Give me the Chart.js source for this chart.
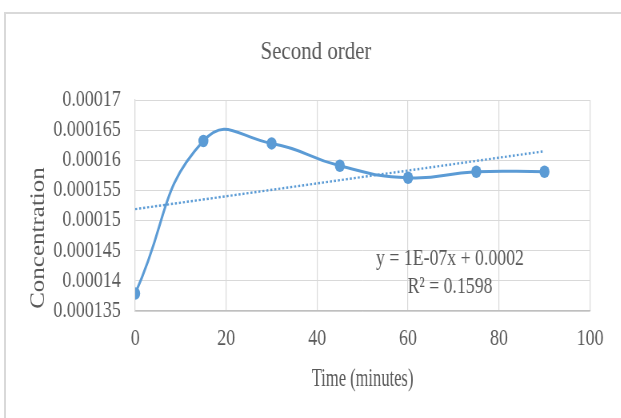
<!DOCTYPE html>
<html>
<head>
<meta charset="utf-8">
<script src="https://cdn.jsdelivr.net/npm/chart.js@4"></script>
<style>
  html, body { margin: 0; padding: 0; background: #ffffff; overflow: hidden; }
  #wrap { position: relative; width: 621px; height: 418px; overflow: hidden; }
  #frame { position: absolute; left: 4px; top: 12px; width: 700px; height: 500px;
           border: 2px solid #d9d9d9; box-sizing: border-box; pointer-events: none; }
  canvas { position: absolute; left: 0; top: 0; transform-origin: 0 0; transform: scaleX(0.8); }
</style>
</head>
<body>
<div id="wrap">
  <canvas id="c" width="776" height="418"></canvas>
  <div id="frame"></div>
</div>
<script>
// ---- data ----
const timeMinutes   = [0, 15, 30, 45, 60, 75, 90];
const concentration = [0.0001379, 0.0001632, 0.0001628, 0.0001591, 0.0001571, 0.0001581, 0.0001581];
const trendX        = [0, 90];
const trendY        = [0.0001519, 0.0001615];
const xTickValues   = [0, 20, 40, 60, 80, 100];
const yTickValues   = [0.000135, 0.00014, 0.000145, 0.00015, 0.000155, 0.00016, 0.000165, 0.00017];
const yTickLabels   = ["0.000135", "0.00014", "0.000145", "0.00015", "0.000155", "0.00016", "0.000165", "0.00017"];
const chartTitle    = "Second order";
const xAxisTitle    = "Time (minutes)";
const yAxisTitle    = "Concentration";
const equationLines = ["y = 1E-07x + 0.0002", "R\u00b2 = 0.1598"];

const SX = 0.8;               // horizontal squeeze of the whole picture (CSS)
const TEXT = '#595959';
const BLUE = '#5b9bd5';
const SERIF = '"Liberation Serif", "Times New Roman", serif';

function drawText(ctx, txt, cx, baseY, size, xScale) {
  ctx.save();
  ctx.translate(cx, baseY);
  ctx.scale(xScale / SX, 1);
  ctx.font = size + 'px ' + SERIF;
  ctx.fillText(txt, 0, 0);
  ctx.restore();
}

const textPlugin = {
  id: 'texts',
  afterDraw(chart) {
    const ctx = chart.ctx;
    const a = chart.chartArea;
    ctx.save();
    ctx.fillStyle = TEXT;
    ctx.textAlign = 'center';
    ctx.textBaseline = 'alphabetic';
    drawText(ctx, chartTitle, 316 / SX, 59, 25.5, 0.82);
    drawText(ctx, xAxisTitle, (a.left + a.right) / 2, 386, 25, 0.66);
    drawText(ctx, equationLines[0], 450 / SX, 265, 22.5, 0.79);
    drawText(ctx, equationLines[1], 450 / SX, 293, 22.5, 0.79);
    ctx.textBaseline = 'middle';
    ctx.translate(39 / SX, 238);
    ctx.rotate(-Math.PI / 2);
    ctx.font = '25px ' + SERIF;
    ctx.fillText(yAxisTitle, 0, 0);
    ctx.restore();
  }
};

new Chart(document.getElementById('c'), {
  type: 'scatter',
  data: {
    datasets: [
      {
        label: 'Trend',
        data: trendX.map((x, i) => ({ x: x, y: trendY[i] })),
        showLine: true,
        borderColor: BLUE,
        borderWidth: 2.4,
        borderDash: [2.5, 2.5],
        pointRadius: 0,
        fill: false,
        order: 0
      },
      {
        label: 'Concentration',
        data: timeMinutes.map((x, i) => ({ x: x, y: concentration[i] })),
        showLine: true,
        borderColor: BLUE,
        backgroundColor: BLUE,
        borderWidth: 3,
        tension: 0.5,
        pointRadius: 6.25,
        pointBackgroundColor: BLUE,
        pointBorderColor: BLUE,
        pointBorderWidth: 0,
        fill: false,
        order: 1
      }
    ]
  },
  options: {
    responsive: false,
    animation: false,
    layout: { padding: { top: 100, right: 38.5, left: 0, bottom: 0 } },
    plugins: {
      legend: { display: false },
      title: { display: false },
      tooltip: { enabled: false }
    },
    scales: {
      x: {
        type: 'linear',
        min: 0, max: 100,
        afterFit(s) { s.height = 107; },
        afterBuildTicks(s) { s.ticks = xTickValues.map(v => ({ value: v })); },
        grid: { color: '#d9d9d9', lineWidth: 1.2, drawTicks: false },
        border: { color: '#bfbfbf', width: 1.2 },
        ticks: { color: TEXT, font: { family: SERIF, size: 22.5 }, padding: 15, maxRotation: 0 }
      },
      y: {
        type: 'linear',
        min: yTickValues[0], max: yTickValues[yTickValues.length - 1],
        afterFit(s) { s.width = 169; },
        afterBuildTicks(s) { s.ticks = yTickValues.map(v => ({ value: v })); },
        grid: { color: '#d9d9d9', lineWidth: 1, drawTicks: false },
        border: { color: '#d9d9d9', width: 1.2 },
        ticks: {
          color: TEXT, font: { family: SERIF, size: 22.5 }, padding: 18,
          callback: (v, i) => yTickLabels[i]
        }
      }
    }
  },
  plugins: [textPlugin]
});
</script>
</body>
</html>
